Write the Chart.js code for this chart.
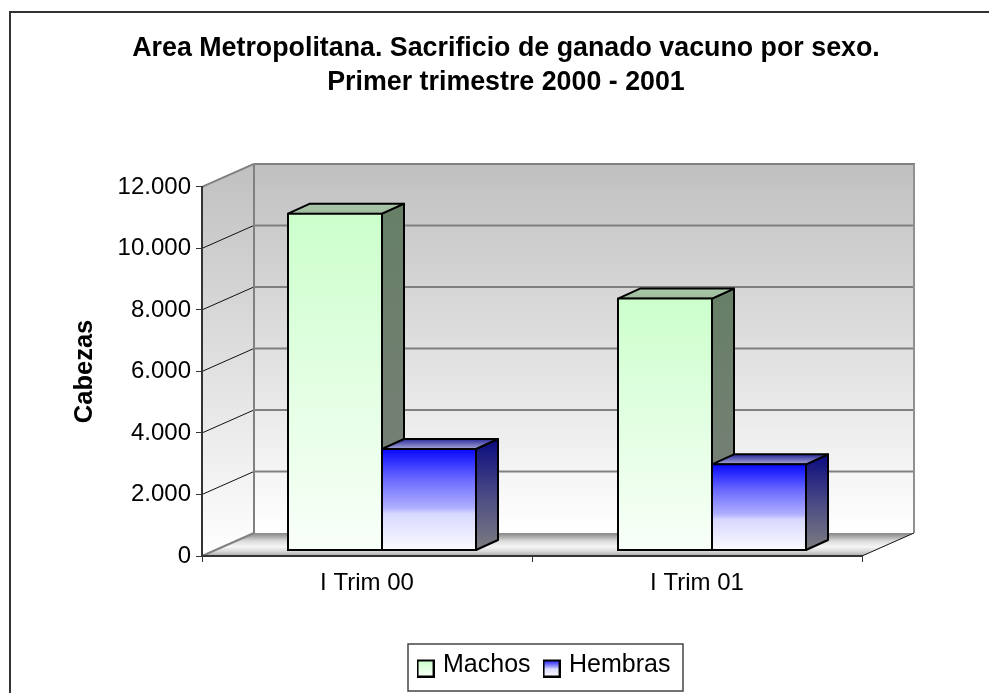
<!DOCTYPE html>
<html>
<head>
<meta charset="utf-8">
<style>html,body{margin:0;padding:0;background:#fff}canvas{display:block}</style>
<script src="https://cdn.jsdelivr.net/npm/chart.js@4"></script>
</head>
<body>
<canvas id="c" width="989" height="693"></canvas>
<script>
const categories = ['I Trim 00', 'I Trim 01'];
const machos = [10950, 8190];
const hembras = [3300, 2800];
const yTickLabels = ['0', '2.000', '4.000', '6.000', '8.000', '10.000', '12.000'];
const titleLines = ['Area Metropolitana. Sacrificio de ganado vacuno por sexo.', 'Primer trimestre 2000 - 2001'];
const FONT = '"Liberation Sans", Arial, sans-serif';

// Projection of the 3D box
const WALL = {dx: 52, dy: -23};
const BAR_SHIFT = {dx: 15, dy: -5.5};
const BAR_DEPTH = {dx: 22, dy: -10};

function grad(ctx, x0, y0, x1, y1, stops) {
  const g = ctx.createLinearGradient(x0, y0, x1, y1);
  stops.forEach(s => g.addColorStop(s[0], s[1]));
  return g;
}
function poly(ctx, pts, fill, stroke, lw) {
  ctx.beginPath();
  pts.forEach((p, i) => i ? ctx.lineTo(p[0], p[1]) : ctx.moveTo(p[0], p[1]));
  ctx.closePath();
  if (fill) { ctx.fillStyle = fill; ctx.fill(); }
  if (stroke) { ctx.strokeStyle = stroke; ctx.lineWidth = lw; ctx.lineJoin = 'round'; ctx.stroke(); }
}
function seg(ctx, x0, y0, x1, y1, color, lw) {
  ctx.beginPath(); ctx.moveTo(x0, y0); ctx.lineTo(x1, y1);
  ctx.strokeStyle = color; ctx.lineWidth = lw; ctx.stroke();
}

const FRONT_STOPS = {
  machos: [[0, '#ccffcc'], [1, '#f9fff9']],
  hembras: [[0, '#0808ff'], [0.3, '#6a6aff'], [0.58, '#b0b0ff'], [0.64, '#d8d8ff'], [1, '#fbfbff']]
};
const SIDE_STOPS = {
  machos: [[0, '#667f66'], [1, '#7c807c']],
  hembras: [[0, '#0a0a80'], [0.55, '#4f4f85'], [1, '#7c7c80']]
};
const TOP_STOPS = {
  machos: [[0, '#a8c8a8'], [1, '#a0bca0']],
  hembras: [[0, '#2a2a9a'], [1, '#a8a8d8']]
};
const KEYS = ['machos', 'hembras'];

function frontGradient(key) {
  return function (c) {
    const chart = c.chart;
    if (!chart.chartArea || !c.parsed) return FRONT_STOPS[key][0][1];
    const y = chart.scales.y;
    return grad(chart.ctx, 0, y.getPixelForValue(c.parsed.y), 0, y.getPixelForValue(0), FRONT_STOPS[key]);
  };
}

const walls = {
  id: 'walls',
  beforeDraw(chart) {
    const ctx = chart.ctx, a = chart.chartArea, y = chart.scales.y;
    const dx = WALL.dx, dy = WALL.dy;
    ctx.save();
    ctx.fillStyle = '#fff';
    ctx.fillRect(0, 0, chart.width, chart.height);
    // outer frame
    seg(ctx, 10, 693, 10, 12, '#333', 2);
    seg(ctx, 9, 12, chart.width, 12, '#333', 2);
    // legend frame
    ctx.fillStyle = '#fff';
    ctx.fillRect(408, 644, 275, 47);
    ctx.strokeStyle = '#444'; ctx.lineWidth = 1.5;
    ctx.strokeRect(408, 644, 275, 47);
    const wallG = [[0, '#c0c0c0'], [1, '#ffffff']];
    // back wall
    poly(ctx, [[a.left + dx, a.top + dy], [a.right + dx, a.top + dy], [a.right + dx, a.bottom + dy], [a.left + dx, a.bottom + dy]],
      grad(ctx, 0, a.top + dy, 0, a.bottom + dy, wallG));
    // side wall
    poly(ctx, [[a.left, a.top], [a.left + dx, a.top + dy], [a.left + dx, a.bottom + dy], [a.left, a.bottom]],
      grad(ctx, 0, a.top + dy, 0, a.bottom, wallG));
    // floor
    poly(ctx, [[a.left, a.bottom], [a.left + dx, a.bottom + dy], [a.right + dx, a.bottom + dy], [a.right, a.bottom]],
      grad(ctx, 0, a.bottom + dy, 0, a.bottom, [[0, '#888888'], [0.12, '#a0a0a0'], [0.35, '#dcdcdc'], [0.6, '#f6f6f6'], [0.8, '#d8d8d8'], [1, '#a8a8a8']]));
    // gridlines on the walls
    y.ticks.forEach((t, i) => {
      const p = y.getPixelForTick(i);
      if (i > 0 && i < y.ticks.length - 1) {
        seg(ctx, a.left + dx, p + dy, a.right + dx, p + dy, '#808080', 2);
        seg(ctx, a.left, p, a.left + dx, p + dy, '#111', 1);
      }
    });
    // wall edges
    seg(ctx, a.left, a.top, a.left + dx, a.top + dy, '#808080', 2);
    seg(ctx, a.left + dx, a.top + dy, a.right + dx + 1, a.top + dy, '#808080', 2);
    seg(ctx, a.left + dx, a.top + dy, a.left + dx, a.bottom + dy, '#808080', 2);
    seg(ctx, a.right + dx, a.top + dy, a.right + dx, a.bottom + dy, '#909090', 2);
    seg(ctx, a.left, a.bottom, a.left + dx, a.bottom + dy, '#808080', 2);
    seg(ctx, a.right, a.bottom, a.right + dx, a.bottom + dy, '#111', 1);
    ctx.restore();
  },
  beforeDatasetsDraw(chart) {
    const ctx = chart.ctx;
    ctx.save();
    ctx.translate(BAR_SHIFT.dx, BAR_SHIFT.dy);
    const dx = BAR_DEPTH.dx, dy = BAR_DEPTH.dy;
    categories.forEach((_, j) => {
      KEYS.forEach((key, i) => {
        const b = chart.getDatasetMeta(i).data[j];
        const L = b.x - b.width / 2, R = b.x + b.width / 2, T = b.y, B = b.base;
        poly(ctx, [[R, T], [R + dx, T + dy], [R + dx, B + dy], [R, B]],
          grad(ctx, 0, T + dy, 0, B, SIDE_STOPS[key]), '#000', 2);
        poly(ctx, [[L, T], [L + dx, T + dy], [R + dx, T + dy], [R, T]],
          grad(ctx, 0, T + dy, 0, T, TOP_STOPS[key]), '#000', 2);
      });
    });
  },
  afterDatasetsDraw(chart) {
    chart.ctx.restore();
  },
  afterLayout(chart) {
    // Title and legend are centred on their own marks, not on the plot
    const t = chart.titleBlock, l = chart.legend;
    const tShift = 506 - (t.left + t.right) / 2;
    t.left += tShift; t.right += tShift;
    const lShift = 545.5 - (l.left + l.right) / 2;
    l.left += lShift; l.right += lShift;
    l.top -= 3; l.bottom -= 3;
  }
};

function swatch(key) {
  const cv = document.createElement('canvas');
  cv.width = 18; cv.height = 24;
  const x = cv.getContext('2d');
  x.fillStyle = grad(x, 0, 7, 0, 23, key === 'machos'
    ? [[0, '#ccffcc'], [1, '#f9fff9']]
    : [[0, '#2020ff'], [0.45, '#b4b4ff'], [0.5, '#dcdcff'], [1, '#fbfbff']]);
  x.fillRect(1, 7, 16, 16);
  x.strokeStyle = '#000'; x.lineWidth = 2;
  x.strokeRect(1, 7, 16, 16);
  return cv;
}

new Chart(document.getElementById('c'), {
  type: 'bar',
  data: {
    labels: categories,
    datasets: [
      {label: 'Machos', data: machos, backgroundColor: frontGradient('machos'), borderColor: '#000', borderWidth: 2, borderSkipped: false, inflateAmount: 1, clip: false},
      {label: 'Hembras', data: hembras, backgroundColor: frontGradient('hembras'), borderColor: '#000', borderWidth: 2, borderSkipped: false, inflateAmount: 1, clip: false}
    ]
  },
  options: {
    responsive: false,
    animation: false,
    categoryPercentage: 0.5697,
    barPercentage: 1,
    layout: {padding: {left: 70, right: 127, top: 0, bottom: 2}},
    scales: {
      x: {
        offset: true,
        grid: {offset: true, drawOnChartArea: false, drawTicks: true, tickLength: 6, color: '#333', lineWidth: 1},
        border: {display: true, color: '#333', width: 2},
        ticks: {color: '#000', font: {family: FONT, size: 24}, padding: 7, maxRotation: 0},
        afterFit(s) { s.height = 84; }
      },
      y: {
        min: 0, max: 12000,
        ticks: {stepSize: 2000, color: '#000', font: {family: FONT, size: 24}, padding: 5, callback: (v, i) => yTickLabels[i]},
        grid: {drawOnChartArea: false, drawTicks: true, tickLength: 6, color: '#333', lineWidth: 1},
        border: {display: true, color: '#333', width: 2},
        title: {display: true, text: 'Cabezas', color: '#000', font: {family: FONT, size: 25.5, weight: 'bold'}, padding: 0},
        afterFit(s) { s.width = 132; }
      }
    },
    plugins: {
      title: {display: true, text: titleLines, color: '#000', font: {family: FONT, size: 26.8, weight: 'bold', lineHeight: 1.285}, padding: {top: 31, bottom: 87}},
      legend: {
        position: 'bottom',
        labels: {
          usePointStyle: true, pointStyleWidth: 10, color: '#000', padding: 16,
          font: {family: FONT, size: 25},
          generateLabels(chart) {
            return chart.data.datasets.map((d, i) => ({
              text: d.label, pointStyle: swatch(KEYS[i]), datasetIndex: i, hidden: false, fontColor: '#000', lineWidth: 0, strokeStyle: 'transparent', fillStyle: 'transparent'
            }));
          }
        }
      },
      tooltip: {enabled: false}
    }
  },
  plugins: [walls]
});
</script>
</body>
</html>
